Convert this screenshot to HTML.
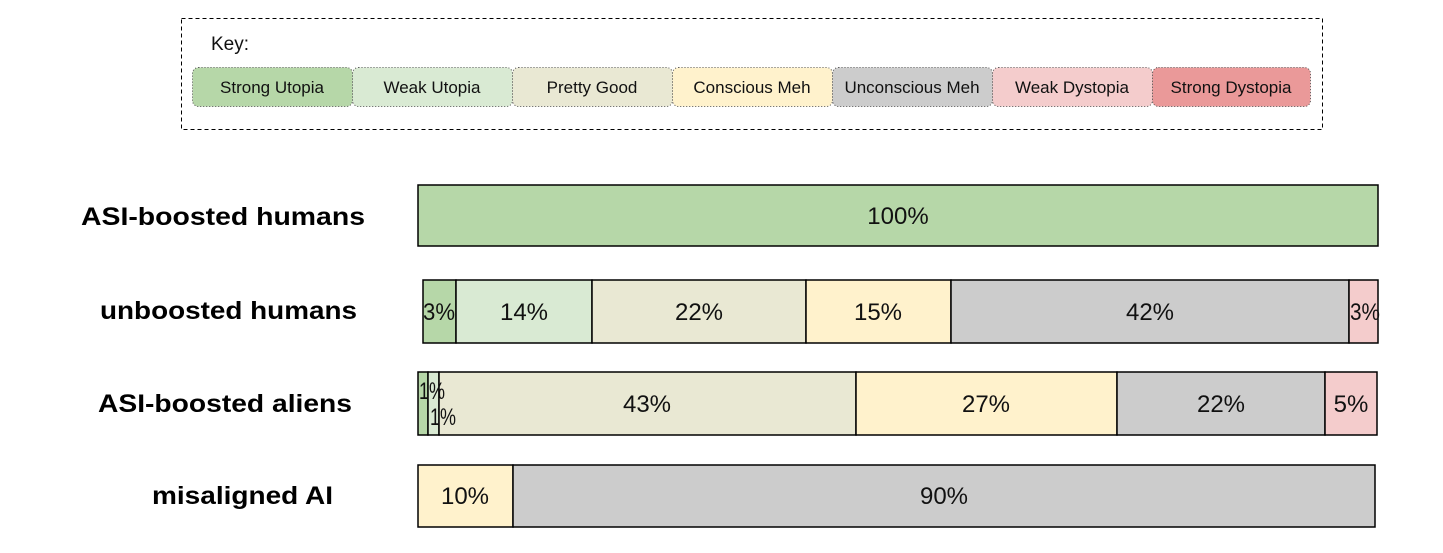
<!DOCTYPE html>
<html><head><meta charset="utf-8"><style>
body{margin:0;background:#fff;}
svg{display:block;font-family:"Liberation Sans",sans-serif;}
</style></head><body>
<svg width="1443" height="553" viewBox="0 0 1443 553">
<rect x="181.5" y="18.5" width="1141" height="111" fill="none" stroke="#000" stroke-dasharray="4,3"/>
<text x="211" y="50" font-size="19" fill="#111">Key:</text>
<g font-size="17" text-anchor="middle" fill="#111" stroke-dasharray="1,2">
<rect x="192.5" y="67.5" width="160" height="39" rx="6" fill="#b6d7a8" stroke="#555"/><text x="272" y="93" stroke="none">Strong Utopia</text>
<rect x="352.5" y="67.5" width="160" height="39" rx="6" fill="#d9ead3" stroke="#555"/><text x="432" y="93" stroke="none">Weak Utopia</text>
<rect x="512.5" y="67.5" width="160" height="39" rx="6" fill="#e9e8d3" stroke="#555"/><text x="592" y="93" stroke="none">Pretty Good</text>
<rect x="672.5" y="67.5" width="160" height="39" rx="6" fill="#fff2cc" stroke="#555"/><text x="752" y="93" stroke="none">Conscious Meh</text>
<rect x="832.5" y="67.5" width="160" height="39" rx="6" fill="#cccccc" stroke="#555"/><text x="912" y="93" stroke="none">Unconscious Meh</text>
<rect x="992.5" y="67.5" width="160" height="39" rx="6" fill="#f4cccc" stroke="#555"/><text x="1072" y="93" stroke="none">Weak Dystopia</text>
<rect x="1152.5" y="67.5" width="158" height="39" rx="6" fill="#ea9999" stroke="#555"/><text x="1231" y="93" stroke="none">Strong Dystopia</text>
</g>
<g font-size="25" font-weight="bold" fill="#000">
<text x="81" y="225" textLength="284" lengthAdjust="spacingAndGlyphs">ASI-boosted humans</text>
<text x="100" y="319" textLength="257" lengthAdjust="spacingAndGlyphs">unboosted humans</text>
<text x="98" y="412" textLength="254" lengthAdjust="spacingAndGlyphs">ASI-boosted aliens</text>
<text x="152" y="504" textLength="181" lengthAdjust="spacingAndGlyphs">misaligned AI</text>
</g>
<g stroke="#000" stroke-width="1.5">
<rect x="418" y="185" width="960" height="61" fill="#b6d7a8"/>
<rect x="423" y="280" width="33" height="63" fill="#b6d7a8"/>
<rect x="456" y="280" width="136" height="63" fill="#d9ead3"/>
<rect x="592" y="280" width="214" height="63" fill="#e9e8d3"/>
<rect x="806" y="280" width="145" height="63" fill="#fff2cc"/>
<rect x="951" y="280" width="398" height="63" fill="#cccccc"/>
<rect x="1349" y="280" width="29" height="63" fill="#f4cccc"/>
<rect x="418" y="372" width="10" height="63" fill="#b6d7a8"/>
<rect x="428" y="372" width="11" height="63" fill="#d9ead3"/>
<rect x="439" y="372" width="417" height="63" fill="#e9e8d3"/>
<rect x="856" y="372" width="261" height="63" fill="#fff2cc"/>
<rect x="1117" y="372" width="208" height="63" fill="#cccccc"/>
<rect x="1325" y="372" width="52" height="63" fill="#f4cccc"/>
<rect x="418" y="465" width="95" height="62" fill="#fff2cc"/>
<rect x="513" y="465" width="862" height="62" fill="#cccccc"/>
</g>
<g font-size="24" text-anchor="middle" fill="#111">
<text x="898" y="224">100%</text>
<text x="439" y="320" textLength="32" lengthAdjust="spacingAndGlyphs">3%</text>
<text x="524" y="320">14%</text>
<text x="699" y="320">22%</text>
<text x="878" y="320">15%</text>
<text x="1150" y="320">42%</text>
<text x="1365" y="320" textLength="30" lengthAdjust="spacingAndGlyphs">3%</text>
<text x="432" y="399" textLength="26" lengthAdjust="spacingAndGlyphs">1%</text>
<text x="443" y="425" textLength="26" lengthAdjust="spacingAndGlyphs">1%</text>
<text x="647" y="412">43%</text>
<text x="986" y="412">27%</text>
<text x="1221" y="412">22%</text>
<text x="1351" y="412">5%</text>
<text x="465" y="504">10%</text>
<text x="944" y="504">90%</text>
</g>
</svg>
</body></html>
